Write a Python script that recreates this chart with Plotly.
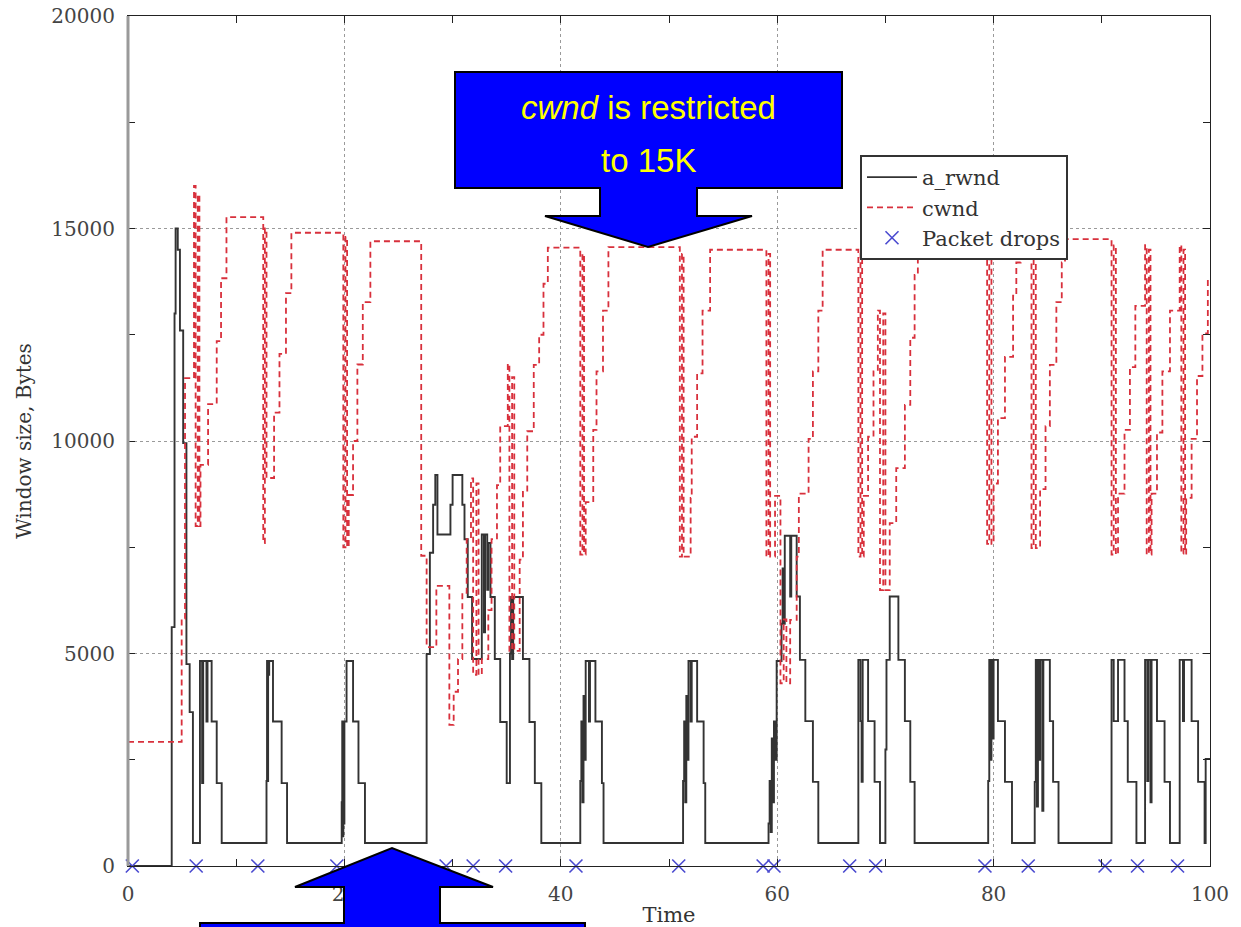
import plotly.graph_objects as go

# ---------------- data ----------------
rwnd_t = [0, 4.04, 4.3, 4.4, 4.6, 4.8, 5.1, 5.4, 5.7, 6.0,
          6.65, 6.85, 6.95, 7.25, 7.35, 7.73, 8.2, 8.66,
          12.8, 12.85, 12.9, 12.95, 13.05, 13.4, 14.2, 14.7,
          19.75, 19.8, 19.85, 19.9, 19.95, 20.0, 20.2, 20.8, 21.3, 21.9,
          27.6, 27.9, 28.2, 28.4, 28.6, 29.8, 30.0, 30.9, 31.1, 31.4, 31.8,
          32.7, 32.9, 33.0, 33.2, 33.3, 33.5, 33.9, 34.4, 35.0,
          35.3, 35.4, 35.5, 35.6, 36.5, 37.1, 37.6, 38.2,
          41.8, 41.9, 42.0, 42.1, 42.2, 42.3, 42.6, 42.7, 43.2, 43.8, 43.95,
          51.3, 51.4, 51.5, 51.6, 51.7, 51.8, 52.0, 52.1, 52.6, 53.2, 53.35,
          59.2, 59.3, 59.4, 59.5, 59.6, 59.7, 59.8, 59.95, 60.4, 60.5, 60.6, 60.7, 61.2, 61.3, 61.8, 62.1, 62.6, 63.3, 63.8,
          67.5, 67.7, 67.8, 67.9, 68.4, 69.0, 69.5, 70.0, 70.1, 70.4, 71.2, 71.8, 72.3, 72.7,
          79.5, 79.6, 79.7, 79.8, 79.9, 80.0, 80.4, 81.05, 81.7,
          83.8, 83.9, 84.0, 84.1, 84.2, 84.3, 84.5, 84.6, 85.2, 85.5, 86.0,
          90.9, 91.1, 91.5, 92.1, 92.4, 93.2,
          94.0, 94.2, 94.3, 94.5, 94.6, 95.1, 95.8, 96.3,
          97.2, 97.5, 97.6, 98.3, 98.9, 99.5, 99.6, 100]
rwnd_v = [0, 5620, 13000, 15000, 14500, 12600, 9950, 4750, 3620, 540,
          4824, 1950, 4824, 3400, 4824, 3400, 1950, 540,
          2000, 4824, 2000, 4500, 4824, 3400, 1950, 540,
          1500, 3400, 700, 3400, 1000, 3400, 4824, 3400, 1950, 540,
          4990, 7370, 8500, 9200, 7800, 8500, 9200, 8500, 7690, 6330, 4870,
          7800, 5500, 7800, 6500, 7600, 6330, 4870, 3390, 1950,
          5000, 6330, 4870, 6330, 4870, 3390, 1950, 540,
          2000, 3400, 1500, 4000, 2500, 4824, 3400, 4824, 3400, 1950, 540,
          2000, 3400, 1500, 4000, 2500, 4824, 3400, 4824, 3400, 1950, 540,
          1000, 2000, 800, 3000, 1500, 3400, 2500, 4824, 5700, 7000, 5700, 7770, 6340, 7770, 6340, 4850, 3410, 1980, 540,
          4850, 3410, 1980, 4850, 3410, 1980, 540, 2740, 4850, 6340, 4850, 3410, 1980, 540,
          2000, 4850, 2500, 4850, 3000, 4850, 3410, 1980, 540,
          1980, 4850, 1400, 4850, 2500, 4850, 1300, 4850, 3410, 1980, 540,
          4850, 3410, 4850, 3410, 1980, 540,
          4850, 2000, 4850, 1500, 4850, 3410, 1980, 540,
          4850, 3410, 4850, 3410, 1980, 540, 2520, 2520]

cwnd_t = [0, 4.96, 5.27, 6.1, 6.25, 6.45, 6.6, 6.7, 7.4, 8.2, 8.6, 9.1,
          12.5, 12.65, 12.8, 13.5, 14.0, 14.6, 15.1,
          19.9, 20.1, 20.25, 20.4, 20.8, 21.2, 21.7, 22.4,
          27.1, 27.6, 28.5, 29.7, 30.1, 30.5, 30.9, 31.3, 31.7, 31.9, 32.2, 32.4, 32.7,
          33.3, 33.6, 34.1, 34.4, 35.1, 35.25, 35.5, 35.7, 36.2, 36.5, 36.9, 37.5, 38.0, 38.4, 38.8,
          41.8, 42.0, 42.15, 42.3, 43.0, 43.3, 43.9, 44.4,
          51.0, 51.2, 51.35, 52.0, 52.1, 52.6, 53.1, 53.8,
          59.0, 59.2, 59.35, 59.8, 60.3, 60.6, 60.85, 61.2, 61.8, 62.0, 62.9, 63.3, 63.8, 64.2,
          67.5, 67.7, 67.85, 68.0, 68.4, 68.9, 69.3, 69.5, 69.8, 70.0, 70.4,
          71.0, 71.8, 72.3, 72.7, 73.0, 73.5,
          79.4, 79.6, 79.8, 80.0, 80.4, 81.05, 81.8, 82.1, 82.5,
          83.5, 83.7, 83.9, 84.3, 84.8, 85.2, 85.8, 86.3, 86.6,
          90.9, 91.1, 91.3, 91.5, 92.1, 92.6, 93.1,
          94.0, 94.15, 94.35, 94.5, 94.6, 95.1, 95.6, 96.3,
          97.2, 97.35, 97.55, 97.7, 97.8, 98.3, 98.8, 99.3, 99.8, 100]
cwnd_v = [2920, 5820, 11480, 16000, 8000, 15800, 8000, 9440, 10870, 12350, 13830, 15270,
          7600, 15000, 9130, 10670, 12050, 13480, 14900,
          7500, 14800, 7500, 8730, 10000, 11800, 13270, 14700,
          7300, 5150, 6590, 3320, 4100, 4870, 6430, 7690, 9120, 4500, 9000, 4500, 4870,
          6020, 7690, 8960, 10350, 11820, 5060, 11500, 5060, 7210, 8800, 10230, 11790, 12500, 13700, 14550,
          7330, 14400, 7330, 8560, 10260, 11640, 13070, 14560,
          7280, 14400, 7280, 8660, 10100, 11590, 13070, 14500,
          7280, 14400, 7280, 8710, 4300, 5800, 4300, 5790, 7280, 8760, 10050, 11640, 13070, 14500,
          7280, 14400, 7280, 8710, 10100, 11640, 13070, 6490, 13000, 6490, 8070,
          9360, 10850, 12430, 13910, 14300, 14700,
          7580, 14600, 7580, 9000, 10540, 11980, 13420, 14200, 14700,
          7480, 14600, 7480, 8870, 10350, 11790, 13270, 14200, 14750,
          7330, 14600, 7330, 8760, 10260, 11740, 13180,
          14610, 7330, 14500, 7330, 8760, 10200, 11640, 13070,
          14610, 7350, 14500, 7350, 8660, 10050, 11530, 12530, 13800, 13800]

drop_t = [0.4, 6.3, 12.0, 19.3, 29.4, 31.9, 34.9, 41.4, 50.9, 58.7, 59.7,
          66.7, 69.1, 79.2, 83.2, 90.3, 93.3, 97.0]
drop_v = [0] * len(drop_t)

x_ticks = [0, 20, 40, 60, 80, 100]
y_ticks = [0, 5000, 10000, 15000, 20000]

# ---------------- layout helpers (pixel -> paper) ----------------
L, R, T, B = 128, 1210, 16, 866
def px(x):
    return (x - L) / (R - L)
def py(y):
    return (B - y) / (B - T)

def path(points):
    return "M " + " L ".join(f"{px(a):.5f},{py(b):.5f}" for a, b in points) + " Z"

serif = "DejaVu Serif"

fig = go.Figure()
fig.add_trace(go.Scatter(x=rwnd_t, y=rwnd_v, mode="lines", name="a_rwnd",
                         line=dict(color="#333333", width=1.9, shape="hv")))
fig.add_trace(go.Scatter(x=cwnd_t, y=cwnd_v, mode="lines", name="cwnd",
                         line=dict(color="#d8303c", width=1.8, shape="hv", dash="6px,4px")))
fig.add_trace(go.Scatter(x=drop_t, y=drop_v, mode="markers", name="Packet drops",
                         marker=dict(symbol="x-thin", size=13, line=dict(color="#4a4ad0", width=1.6)),
                         cliponaxis=False))

axis_common = dict(showline=True, mirror="ticks", linecolor="#222", linewidth=1.2,
                   ticks="inside", ticklen=7, tickcolor="#222",
                   showgrid=True, gridcolor="#9a9a9a", griddash="dot", gridwidth=1,
                   zeroline=False, automargin=False,
                   tickfont=dict(family=serif, size=20, color="#444"))

fig.update_layout(
    width=1241, height=927,
    margin=dict(l=L, r=1241 - R, t=T, b=927 - B),
    paper_bgcolor="white", plot_bgcolor="white",
    showlegend=True,
    legend=dict(x=px(860), y=py(155), xanchor="left", yanchor="top",
                bgcolor="white", bordercolor="#333", borderwidth=2,
                font=dict(family=serif, size=21, color="#333"),
                itemwidth=50, tracegroupgap=0),
    xaxis=dict(range=[0, 100], tickvals=x_ticks,
               minor=dict(ticks="inside", dtick=10, ticklen=7, tickcolor="#222", showgrid=False),
               title=dict(text="Time", font=dict(family=serif, size=21, color="#333"), standoff=12),
               ticklabelstandoff=10, **axis_common),
    yaxis=dict(range=[0, 20000], tickvals=y_ticks, tickformat="d",
               minor=dict(ticks="inside", dtick=2500, ticklen=7, tickcolor="#222", showgrid=False),
               title=dict(text="Window size, Bytes", font=dict(family=serif, size=20, color="#333"), standoff=14),
               ticklabelstandoff=8, **axis_common),
)

# grey thick left axis edge
fig.add_shape(type="line", xref="paper", yref="paper", x0=0, x1=0, y0=0, y1=1,
              line=dict(color="#9a9a9a", width=3), layer="above")

# top callout: box + downward arrow
top_pts = [(455, 72), (842, 72), (842, 188), (697, 188), (697, 216), (752, 216),
           (648, 247), (545, 216), (600, 216), (600, 188), (455, 188)]
fig.add_shape(type="path", xref="paper", yref="paper", path=path(top_pts),
              fillcolor="#0000ff", line=dict(color="black", width=2), layer="above")

# bottom callout: upward arrow + box (cut by page edge)
bot_pts = [(200, 1000), (200, 923), (344, 923), (344, 887), (295, 887), (392, 848),
           (493, 887), (440, 887), (440, 923), (585, 923), (585, 1000)]
fig.add_shape(type="path", xref="paper", yref="paper", path=path(bot_pts),
              fillcolor="#0000ff", line=dict(color="black", width=2), layer="above")

fig.add_annotation(xref="paper", yref="paper", x=px(648), y=py(107), showarrow=False,
                   text="<i>cwnd</i> is restricted", xanchor="center", yanchor="middle",
                   font=dict(family="Liberation Sans", size=33, color="#ffff00"))
fig.add_annotation(xref="paper", yref="paper", x=px(648), y=py(160), showarrow=False,
                   text="to 15K", xanchor="center", yanchor="middle",
                   font=dict(family="Liberation Sans", size=33, color="#ffff00"))

fig.write_html("out.html")
